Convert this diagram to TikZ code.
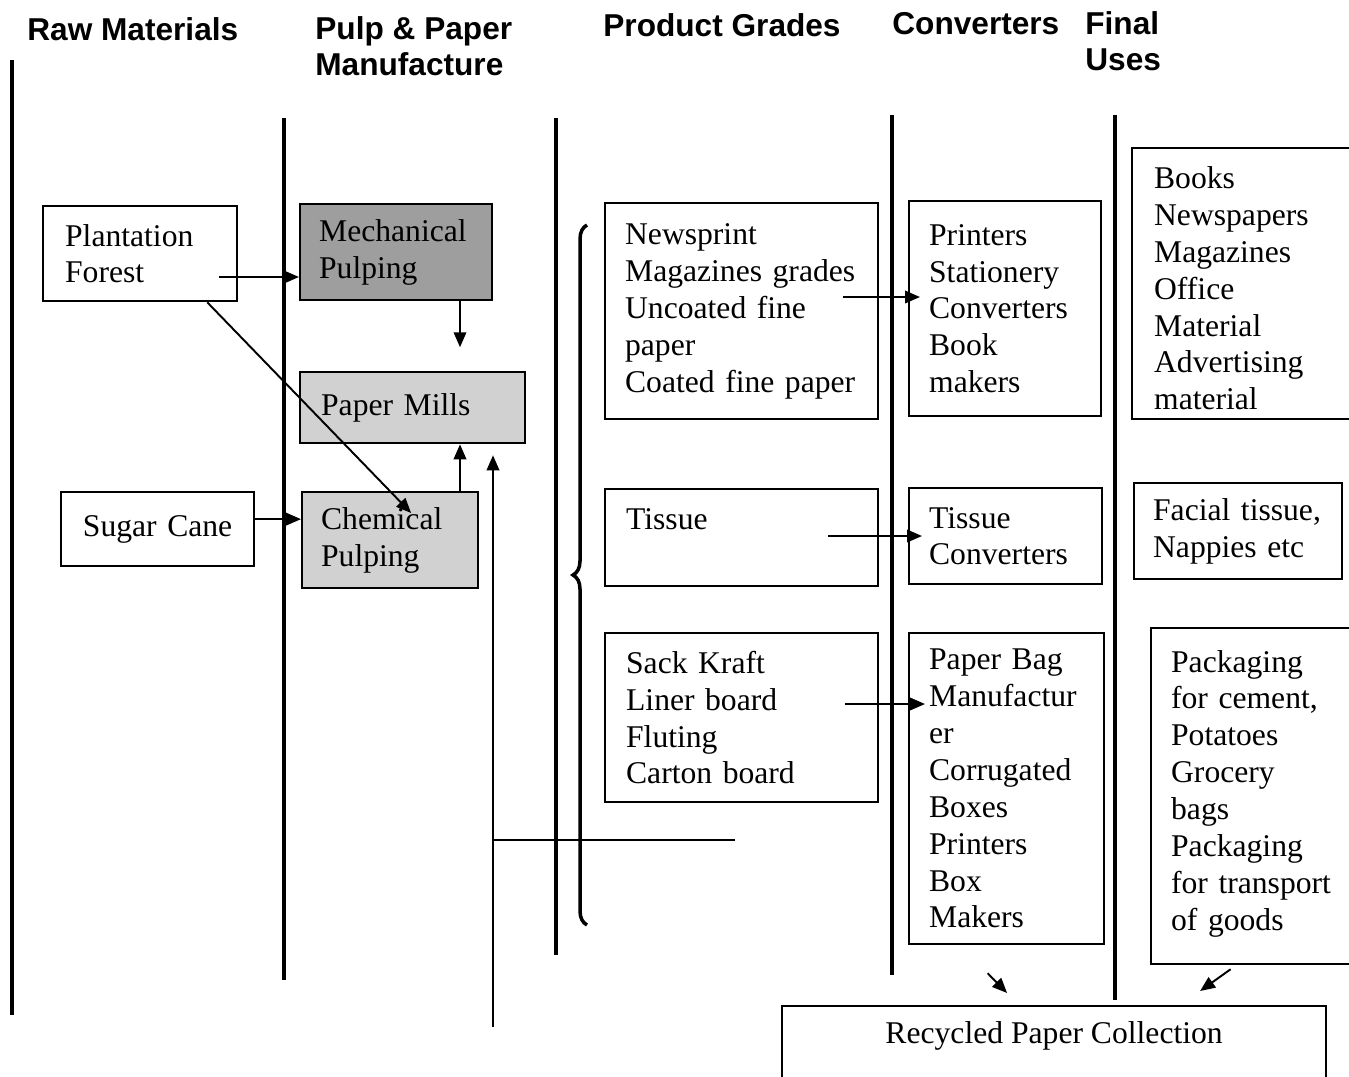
\documentclass[tikz,border=0pt]{standalone}
\usepackage{fontspec}
\setmainfont{Liberation Serif}
\newfontfamily\hdrfamily{Liberation Sans}
\usepackage{tikz}
\usetikzlibrary{positioning,arrows.meta,calc,decorations.pathreplacing}
\newcommand{\boxfont}{\fontsize{18}{21}\selectfont}
\newcommand{\hdrfont}{\hdrfamily\bfseries\fontsize{18}{20.5}\selectfont}

\begin{document}
\begin{tikzpicture}[
  x=0.02cm, y=-0.02cm,
  rule/.style={line width=2.8pt},
  txt/.style={draw, line width=1.3pt, anchor=north west, align=left, inner ysep=0pt, font=\boxfont},
  pulp/.style={txt, fill=black!18},
  hdr/.style={anchor=north west, inner sep=0pt, align=left, font=\hdrfont},
  arr/.style={-{Triangle[length=0.3cm,width=0.25cm]}, line width=1.1pt},
  thinline/.style={line width=1.1pt}
]
  \useasboundingbox (0,0) rectangle (1349,1076);

  % --- column titles ---
  \node[hdr] (hraw) at (27,17) {Raw Materials};
  \node[hdr] (hpulp) at (315,16) {Pulp \& Paper\\Manufacture};
  \node[hdr] (hgrade) at (603,13) {Product Grades};
  \node[hdr] (hconv) at (892,12) {Converters};
  \node[hdr] (huse) at (1085,11) {Final\\Uses};

  % --- column rules ---
  \foreach \x/\t/\b/\w in {12/60/1015/2.2pt, 284/118/980/2.8pt, 556/118/955/2.8pt, 892/115/975/2.8pt, 1115/115/1000/2.8pt}
    {\draw[line width=\w] (\x,\t) -- (\x,\b);}

  % --- raw materials ---
  \node[txt, minimum width=3.88cm, minimum height=1.9cm, inner xsep=0.44cm, text width=3.0cm] (plant) at (42,205) {Plantation\\Forest};
  \node[txt, minimum width=3.86cm, minimum height=1.48cm, inner xsep=0.43cm, text width=3.0cm, align=center] (cane) at (60,491) {Sugar Cane};

  % --- pulp & paper ---
  \node[pulp, fill=black!38, minimum width=3.84cm, minimum height=1.92cm, inner xsep=0.38cm, text width=3.08cm] (mech) at (299,203) {Mechanical\\Pulping};
  \node[pulp, minimum width=4.5cm, minimum height=1.42cm, inner xsep=0.42cm, text width=3.66cm] (mills) at (299,371) {Paper Mills};
  \node[pulp, minimum width=3.52cm, minimum height=1.92cm, inner xsep=0.38cm, text width=2.76cm] (chem) at (301,491) {Chemical\\Pulping};

  % --- product grades ---
  \node[txt, minimum width=5.46cm, minimum height=4.32cm, inner xsep=0.4cm, text width=4.66cm] (news) at (604,202) {Newsprint\\Magazines grades\\Uncoated fine\\paper\\Coated fine paper};
  \node[txt, minimum width=5.46cm, minimum height=1.94cm, inner xsep=0.42cm, text width=4.62cm] (tissue) at (604,488) {Tissue\\\mbox{}};
  \node[txt, minimum width=5.46cm, minimum height=3.38cm, inner xsep=0.42cm, text width=4.62cm] (sack) at (604,632) {Sack Kraft\\Liner board\\Fluting\\Carton board};

  % --- converters ---
  \node[txt, minimum width=3.84cm, minimum height=4.3cm, inner xsep=0.4cm, text width=3.04cm] (conv) at (908,200) {Printers\\Stationery\\Converters\\Book\\makers};
  \node[txt, minimum width=3.86cm, minimum height=1.92cm, inner xsep=0.4cm, text width=3.06cm] (tconv) at (908,487) {Tissue\\Converters};
  \node[txt, minimum width=3.9cm, minimum height=6.22cm, inner xsep=0.4cm, text width=3.1cm] (bag) at (908,632) {Paper Bag\\Manufactur\\er\\Corrugated\\Boxes\\Printers\\Box\\Makers};

  % --- final uses ---
  \node[txt, minimum width=4.38cm, minimum height=5.42cm, inner xsep=0.42cm, text width=3.5cm] (books) at (1131,147) {\mbox{}\\[-0.11cm]Books\\Newspapers\\Magazines\\Office\\Material\\Advertising\\material};
  \node[txt, minimum width=4.16cm, minimum height=1.92cm, inner xsep=0.38cm, text width=3.4cm] (facial) at (1133,482) {Facial tissue,\\Nappies etc};
  \node[txt, minimum width=4.1cm, minimum height=6.72cm, inner xsep=0.4cm, text width=3.3cm] (pack) at (1150,627) {Packaging\\for cement,\\Potatoes\\Grocery\\bags\\Packaging\\for transport\\of goods\\[-0.5cm]\mbox{}};

  % --- recycling ---
  \node[txt, minimum width=10.88cm, align=center, inner ysep=0.3cm, text depth=1.2cm] (recyc) at (781,1005) {Recycled Paper Collection};

  % --- flows ---
  \coordinate (pfout) at (219,277);
  \draw[arr] (pfout) -- (pfout -| mech.west);
  \draw[arr] ($(plant.south east)+(-31,0)$) -- ($(chem.north)+(21,22)$);
  \draw[arr] ($(cane.east)+(0,-10)$) -- ($(cane.east -| chem.west)+(0,-10)$);
  \draw[arr] ($(mech.south west)+(161,0)$) -- ++(0,46);
  \draw[arr] ($(chem.north west)+(159,0)$) -- ($(mills.south west)+(161,0)$);

  \coordinate (rtail) at (735,840);
  \coordinate (rfoot) at (493,1027);
  \draw[arr] (rtail) -- (rtail -| rfoot) -- ($(rfoot |- mills.south)+(0,11)$);
  \draw[thinline] (rtail -| rfoot) -- (rfoot);

  \draw[arr] ($(news.north west)+(239,95)$) -- ($(conv.north west)+(12,97)$);
  \draw[arr] ($(tissue.north west)+(224,48)$) -- ($(tconv.north west)+(14,49)$);
  \draw[arr] ($(sack.north west)+(241,72)$) -- ($(bag.north west)+(17,72)$);

  \draw[arr] ($(bag.south)+(-19,28)$) -- ($(recyc.north)+(-47,-12)$);
  \draw[arr] ($(pack.south)+(-23,4)$) -- ($(recyc.north)+(146,-14)$);

  % --- brace over the grades ---
  \draw[decorate, decoration={brace, amplitude=0.28cm}, line width=2pt] (587,925) -- (587,225);
\end{tikzpicture}
\end{document}
